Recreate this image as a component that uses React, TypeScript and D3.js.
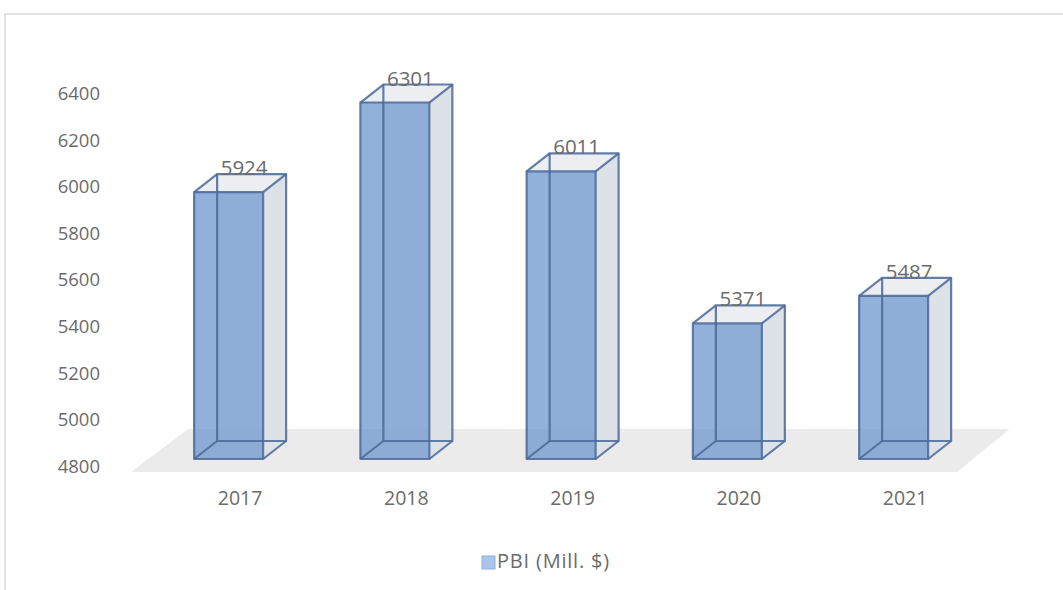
import React from "react";
import * as d3 from "d3";

const categories = ["2017", "2018", "2019", "2020", "2021"];
const values = [5924, 6301, 6011, 5371, 5487];
const yTicks = [4800, 5000, 5200, 5400, 5600, 5800, 6000, 6200, 6400];
const seriesName = "PBI (Mill. $)";

const W = 1063;
const H = 590;
const FONT = "'Open Sans', 'Liberation Sans', sans-serif";
const TEXT = "#6b6b6b";
const EDGE = "#4a6898";
const DX = 23;
const DY = -18;
const BAR_W = 69;

export default function App() {
  const x = d3.scaleBand<string>().domain(categories).range([145.5, 976.75]).padding(0);
  // bar front-face value scale
  const yBar = d3.scaleLinear().domain([4800, 6400]).range([459, 79]);
  // projected axis label scale
  const yAxis = d3.scaleLinear().domain([4800, 6400]).range([468, 95]);
  const base = yBar(4800);

  const floor = [
    [131, base + 13],
    [957, base + 13],
    [1010, base - 30],
    [188, base - 30],
  ];

  return (
    <svg width={W} height={H} style={{ position: "absolute", left: 0, top: 0 }} fontFamily={FONT}>
      <rect x={0} y={0} width={W} height={H} fill="#fff" />
      <rect x={5} y={14} width={W + 20} height={H + 20} fill="none" stroke="#d9d9d9" strokeWidth={1.5} />
      <polygon points={floor.map((p) => p.join(",")).join(" ")} fill="#ebebeb" />
      {yTicks.map((t) => (
        <text key={t} x={100} y={yAxis(t)} textAnchor="end" dominantBaseline="middle" fontSize={18.5} fill={TEXT}>
          {t}
        </text>
      ))}
      {categories.map((c, i) => {
        const cx = (x(c) as number) + x.bandwidth() / 2;
        const x0 = cx - BAR_W / 2;
        const x1 = cx + BAR_W / 2;
        const yt = yBar(values[i]);
        const yb = base;
        const front = `${x0},${yt} ${x1},${yt} ${x1},${yb} ${x0},${yb}`;
        const right = `${x1},${yt} ${x1 + DX},${yt + DY} ${x1 + DX},${yb + DY} ${x1},${yb}`;
        const top = `${x0},${yt} ${x0 + DX},${yt + DY} ${x1 + DX},${yt + DY} ${x1},${yt}`;
        const back = `${x0 + DX},${yt + DY} ${x1 + DX},${yt + DY} ${x1 + DX},${yb + DY} ${x0 + DX},${yb + DY}`;
        return (
          <g key={c}>
            <polygon points={back} fill="#e9ebef" fillOpacity={0.6} />
            <polygon points={right} fill="#dde1e8" />
            <polygon points={top} fill="#eceef2" />
            <polygon points={front} fill="#6f98cf" fillOpacity={0.76} />
            <g fill="none" stroke={EDGE} strokeWidth={2.2} strokeLinejoin="round" strokeOpacity={0.85}>
              <polygon points={back} />
              <line x1={x0} y1={yb} x2={x0 + DX} y2={yb + DY} />
              <line x1={x0} y1={yt} x2={x0 + DX} y2={yt + DY} />
              <line x1={x1} y1={yt} x2={x1 + DX} y2={yt + DY} />
              <line x1={x1} y1={yb} x2={x1 + DX} y2={yb + DY} />
              <polygon points={front} />
            </g>
            <text x={cx + DX / 2 + 4} y={yt + DY + 1} textAnchor="middle" fontSize={20.5} fill={TEXT}>
              {values[i]}
            </text>
            <text x={cx + DX / 2} y={500} textAnchor="middle" dominantBaseline="middle" fontSize={19.5} fill={TEXT}>
              {c}
            </text>
          </g>
        );
      })}
      <rect x={482} y={556} width={13} height={13} fill="#a9c5ea" stroke="#8fb0dc" strokeWidth={1} />
      <text x={497} y={563} dominantBaseline="middle" fontSize={20} letterSpacing={0.8} fill={TEXT}>
        {seriesName}
      </text>
    </svg>
  );
}
